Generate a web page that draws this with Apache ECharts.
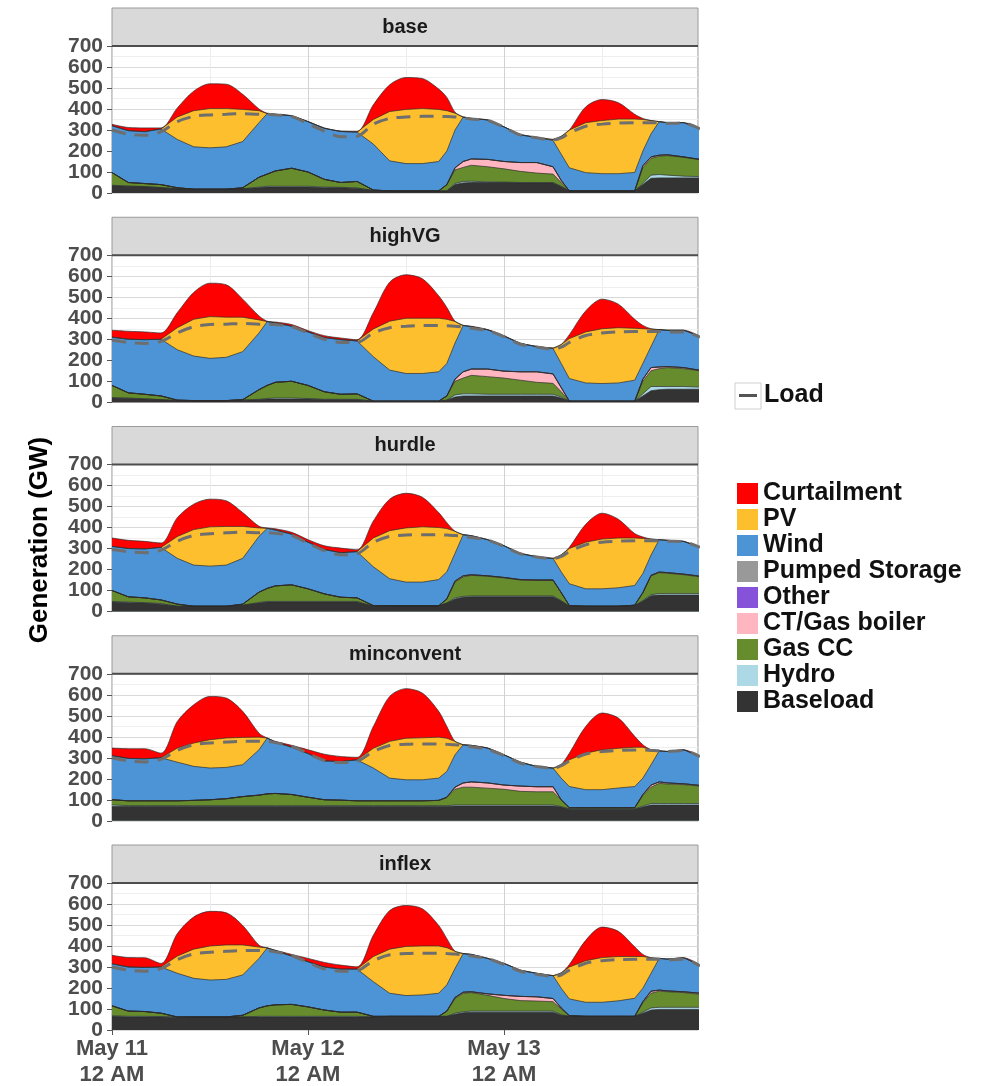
<!DOCTYPE html>
<html>
<head>
<meta charset="utf-8">
<script src="https://cdn.jsdelivr.net/npm/echarts@6.0.0/dist/echarts.min.js"></script>
<style>
html,body{margin:0;padding:0;background:#ffffff;}
#chart{width:991px;height:1086px;}
</style>
</head>
<body>
<div id="chart"></div>
<script>
// ---------- DATA ----------
const hours = [0,2,4,6,8,10,12,14,16,18,19,20,22,24,26,28,30,32,34,36,38,40,41,42,43,44,46,48,50,52,54,55,56,58,60,62,64,65,66,67,68,70,72];
const scenarios = ['base','highVG','hurdle','minconvent','inflex'];
const xTickValues = [0,24,48];
const xTickLabels = ['May 11\n12 AM','May 12\n12 AM','May 13\n12 AM'];
const yTickValues = [0,100,200,300,400,500,600,700];

const other_gw  = [0,0,0,0,0,0,0,0,0,0,0,0,0,0,0,0,0,0,0,0,0,0,0,0,0,0,0,0,0,0,0,0,0,0,0,0,0,0,0,0,0,0,0];
const pumped_gw = [0,0,0,0,0,0,0,0,0,0,0,0,0,0,0,0,0,0,0,0,0,0,0,0,0,0,0,0,0,0,0,0,0,0,0,0,0,0,0,0,0,0,0];

// base
const base_baseload = [35,32,30,25,20,18,18,18,20,25,28,28,28,28,25,25,22,12,10,10,10,10,10,40,48,50,50,50,48,48,48,30,10,10,10,10,10,40,70,72,72,72,72];
const base_hydro    = [2,1,1,1,0,0,0,0,0,3,4,4,4,4,3,2,2,0,0,0,0,0,0,5,7,6,3,2,2,2,2,2,0,0,0,0,0,5,15,16,13,8,6];
const base_gascc    = [60,17,14,14,5,0,0,0,5,47,58,73,86,68,37,23,31,2,0,0,0,0,30,65,67,76,72,63,53,45,40,18,0,0,0,0,0,75,80,87,93,90,80];
const base_ct       = [0,0,0,0,0,0,0,0,0,0,0,0,0,0,0,0,0,0,0,0,0,0,0,10,28,30,35,35,42,50,35,10,0,0,0,0,0,10,7,5,4,2,2];
const base_wind     = [223,247,247,265,230,202,197,202,220,260,288,270,250,240,243,243,235,219,143,130,130,140,160,180,212,193,188,165,133,120,125,125,110,87,82,82,88,70,110,160,153,163,148];
const base_pv       = [0,0,0,0,107,172,187,182,153,57,0,0,0,0,0,0,0,117,235,258,262,248,192,80,0,0,0,0,0,0,5,85,180,238,253,260,254,150,63,0,0,0,0];
const base_curt     = [7,15,18,5,43,93,118,116,72,8,2,0,0,0,2,2,3,70,127,152,143,97,63,5,0,0,0,0,0,0,0,0,0,75,100,78,23,5,0,0,0,0,0];
const base_load     = [300,280,275,292,340,365,372,375,378,375,375,372,365,330,295,268,270,328,355,362,365,365,364,362,358,352,346,313,276,263,253,262,285,318,328,333,335,335,335,335,332,333,305];

// highVG
const highVG_baseload = [20,18,15,12,8,8,8,8,10,12,15,15,15,15,12,12,12,5,5,5,5,5,10,25,30,30,30,30,30,30,30,20,5,5,5,5,5,30,55,60,62,62,62];
const highVG_hydro    = [2,2,2,0,0,0,0,0,0,2,3,5,5,3,2,2,2,0,0,0,0,0,0,10,10,10,8,8,8,8,8,5,0,0,0,0,0,10,20,15,13,13,10];
const highVG_gascc    = [58,25,21,18,2,0,0,0,2,46,62,75,80,62,36,24,26,0,0,0,0,0,20,65,75,88,84,77,67,57,52,25,0,0,0,0,0,60,75,85,90,85,78];
const highVG_ct       = [0,0,0,0,0,0,0,0,0,0,0,0,0,0,0,0,0,0,0,0,0,0,0,10,30,30,36,33,40,50,45,20,0,0,0,0,0,10,15,8,5,5,2];
const highVG_wind     = [230,255,260,270,240,212,201,206,229,270,304,283,262,255,258,260,252,212,148,132,132,140,155,172,221,202,187,167,135,120,121,115,108,87,84,87,100,75,101,178,173,178,162];
const highVG_pv       = [0,0,0,0,105,175,199,191,164,62,0,0,0,0,0,0,0,132,233,263,263,255,210,103,0,0,0,0,0,0,2,90,190,243,261,263,247,165,82,0,0,0,0];
const highVG_curt     = [33,38,37,30,72,128,159,154,86,19,2,4,8,6,9,8,6,78,186,207,188,107,56,1,0,2,1,2,2,1,0,0,19,100,141,112,43,16,2,0,0,0,0];
const highVG_load     = [295,285,280,290,330,360,370,372,375,372,372,370,360,330,300,285,285,330,355,362,365,365,364,362,358,352,342,312,276,263,253,262,285,318,330,335,337,337,337,337,335,335,310];

// hurdle
const hurdle_baseload = [45,42,40,35,25,25,25,25,30,40,45,45,45,45,45,45,45,25,27,27,27,27,40,60,68,70,70,70,70,70,70,50,25,25,25,25,28,50,75,78,78,78,78];
const hurdle_hydro    = [3,3,2,3,0,0,0,0,0,3,3,3,3,3,3,3,3,0,0,0,0,0,0,5,4,4,4,4,4,4,4,2,0,0,0,0,0,3,5,7,7,7,7];
const hurdle_gascc    = [52,25,23,17,10,0,0,0,5,49,62,74,79,60,36,20,17,3,0,0,0,0,20,75,93,98,94,86,76,74,74,38,3,0,0,0,2,37,90,100,97,90,80];
const hurdle_ct       = [0,0,0,0,0,0,0,0,0,0,0,0,0,0,0,0,0,0,0,0,0,0,0,5,5,3,2,2,2,2,2,0,0,0,0,0,0,0,2,3,3,3,3];
const hurdle_wind     = [210,230,233,250,218,196,191,196,218,266,286,266,241,222,211,212,220,185,129,113,113,125,129,132,196,186,172,151,125,111,103,99,104,83,83,88,94,91,97,154,154,156,138];
const hurdle_pv       = [0,0,0,0,104,169,187,184,152,40,0,0,0,0,0,0,0,137,229,258,263,248,206,105,0,0,0,0,0,0,0,81,168,222,237,237,226,167,76,0,0,0,0];
const hurdle_curt     = [40,39,36,21,90,121,132,122,66,8,2,6,9,12,18,22,9,81,150,165,141,71,28,0,0,0,0,0,0,0,0,0,6,85,123,89,21,7,0,0,0,0,0];
const hurdle_load     = [295,285,280,292,335,362,370,375,378,375,375,372,362,325,290,270,275,330,358,364,366,366,364,362,358,352,340,310,275,260,252,262,285,318,330,335,337,337,337,337,335,332,305];

// minconvent
const minconvent_baseload = [68,68,68,68,68,68,68,68,68,68,68,68,68,68,68,68,68,68,68,68,68,68,68,70,70,70,70,70,70,70,70,65,55,55,55,55,55,65,75,75,75,75,75];
const minconvent_hydro    = [7,4,4,4,4,4,4,4,4,4,4,4,4,4,4,4,4,4,4,4,4,4,4,5,5,5,5,5,5,5,5,3,2,2,2,2,2,4,7,7,7,7,7];
const minconvent_gascc    = [25,23,23,23,23,25,28,33,43,50,56,58,53,40,28,26,23,23,23,23,23,25,38,75,85,85,80,75,65,63,63,32,5,5,5,5,5,51,78,96,93,90,83];
const minconvent_ct       = [0,0,0,0,0,0,0,0,0,0,0,0,0,0,0,0,0,0,0,0,0,0,2,10,20,25,25,20,25,24,24,0,0,0,0,0,0,5,10,7,5,4,3];
const minconvent_wind     = [210,202,200,205,184,162,151,149,152,216,266,245,225,208,185,184,195,156,108,100,100,106,123,154,182,174,166,144,114,97,89,103,101,86,86,94,101,78,97,148,150,162,138];
const minconvent_pv       = [0,0,0,0,67,111,135,140,130,60,0,0,0,0,0,0,0,94,175,198,200,195,158,64,0,0,0,0,0,0,0,65,127,174,190,189,187,147,71,0,0,0,0];
const minconvent_curt     = [36,46,48,22,127,182,206,190,124,19,0,3,9,18,32,24,12,104,214,236,213,123,56,0,0,0,0,0,0,0,0,0,32,127,175,144,52,12,0,0,0,0,0];
const minconvent_load     = [300,285,280,292,335,362,370,375,378,378,378,372,355,320,287,277,283,330,358,364,366,366,364,362,358,352,340,310,275,258,250,262,285,318,330,335,337,337,335,333,330,335,305];

// inflex
const inflex_baseload = [65,62,62,62,60,62,62,62,62,62,62,62,62,62,62,62,62,62,65,65,65,65,65,75,82,85,85,85,85,85,85,70,65,65,65,65,65,80,95,98,98,98,98];
const inflex_hydro    = [3,3,3,2,2,0,0,0,0,3,3,3,3,3,3,3,3,0,0,0,0,0,0,5,5,5,5,5,5,5,5,3,0,0,0,0,0,5,10,10,10,10,10];
const inflex_gascc    = [47,25,23,16,0,0,0,0,8,40,50,55,57,45,30,20,20,3,0,0,0,0,25,70,88,88,75,60,50,48,45,27,3,0,0,0,0,45,70,77,74,70,62];
const inflex_ct       = [0,0,0,0,0,0,0,0,0,0,0,0,0,0,0,0,0,0,0,0,0,0,0,5,5,4,7,15,20,20,15,5,0,0,0,0,0,5,10,5,4,4,5];
const inflex_wind     = [200,210,210,220,208,184,176,179,192,236,276,258,230,215,205,205,205,165,110,99,102,110,125,138,184,178,169,152,125,112,109,94,80,67,67,74,86,64,85,151,152,162,134];
const inflex_pv       = [0,0,0,0,82,139,162,164,143,54,0,0,0,0,0,0,0,120,210,234,233,225,177,82,0,0,0,0,0,0,0,73,152,198,213,211,199,151,74,0,0,0,0];
const inflex_curt     = [41,45,46,17,107,153,165,153,93,9,0,2,8,16,22,19,11,101,184,195,177,98,43,0,0,0,0,0,0,0,0,0,12,97,145,120,46,10,0,0,0,0,0];
const inflex_load     = [300,285,280,292,335,362,370,375,378,378,378,372,355,322,290,280,283,330,358,364,366,366,364,362,358,352,340,312,280,265,255,262,285,318,330,335,337,337,337,337,335,337,305];

// ---------- BUILD ----------
const panelData = {
  base:       [base_baseload, base_hydro, base_gascc, base_ct, other_gw, pumped_gw, base_wind, base_pv, base_curt, base_load],
  highVG:     [highVG_baseload, highVG_hydro, highVG_gascc, highVG_ct, other_gw, pumped_gw, highVG_wind, highVG_pv, highVG_curt, highVG_load],
  hurdle:     [hurdle_baseload, hurdle_hydro, hurdle_gascc, hurdle_ct, other_gw, pumped_gw, hurdle_wind, hurdle_pv, hurdle_curt, hurdle_load],
  minconvent: [minconvent_baseload, minconvent_hydro, minconvent_gascc, minconvent_ct, other_gw, pumped_gw, minconvent_wind, minconvent_pv, minconvent_curt, minconvent_load],
  inflex:     [inflex_baseload, inflex_hydro, inflex_gascc, inflex_ct, other_gw, pumped_gw, inflex_wind, inflex_pv, inflex_curt, inflex_load]
};
// stacking order, bottom to top
const stackNames = ['Baseload','Hydro','Gas CC','CT/Gas boiler','Other','Pumped Storage','Wind','PV','Curtailment'];
const fillColors = {
  'Baseload':'#333333','Hydro':'#add8e6','Gas CC':'#668c2e','CT/Gas boiler':'#ffb6c1',
  'Other':'#8552d9','Pumped Storage':'#999999','Wind':'#4d94d6','PV':'#fdbf2d','Curtailment':'#ff0000'
};

const FONT = 'Liberation Sans, Arial, Helvetica, sans-serif';
const plotLeft = 112, plotWidth = 586, plotHeight = 147, firstTop = 46, step = 209.25, stripH = 38;

const grids = [], xAxes = [], yAxes = [], series = [], graphics = [];
scenarios.forEach((sc, i) => {
  const top = firstTop + step * i;
  const isLast = i === scenarios.length - 1;
  grids.push({left: plotLeft, top: top, width: plotWidth, height: plotHeight, show: true,
    borderColor: '#8f8f8f', borderWidth: 1, backgroundColor: '#ffffff', containLabel: false, outerBoundsMode: 'none'});
  xAxes.push({
    type: 'value', gridIndex: i, min: 0, max: 71.75, interval: 24,
    axisLine: {show: false},
    axisTick: {show: isLast, length: 5, lineStyle: {color: '#555555', width: 1}},
    axisLabel: {show: isLast, margin: 6, color: '#4d4d4d', fontWeight: 'bold', fontSize: 22, lineHeight: 26, fontFamily: FONT,
      showMaxLabel: false,
      formatter: v => { const k = xTickValues.indexOf(v); return k >= 0 ? xTickLabels[k] : ''; }},
    splitLine: {show: true, lineStyle: {color: '#d2d2d2', width: 1}},
    minorTick: {show: false, splitNumber: 2},
    minorSplitLine: {show: true, lineStyle: {color: '#ededed', width: 1}}
  });
  yAxes.push({
    type: 'value', gridIndex: i, min: 0, max: 700, interval: 100,
    axisLine: {show: false},
    axisTick: {show: true, length: 5, lineStyle: {color: '#555555', width: 1}},
    axisLabel: {show: true, margin: 9, color: '#4d4d4d', fontWeight: 'bold', fontSize: 21, fontFamily: FONT,
      formatter: v => (yTickValues.indexOf(v) >= 0 ? String(v) : '')},
    splitLine: {show: true, lineStyle: {color: '#d9d9d9', width: 1}},
    minorTick: {show: false, splitNumber: 2},
    minorSplitLine: {show: true, lineStyle: {color: '#efefef', width: 1}}
  });
  const arrs = panelData[sc];
  // cumulative tops of each layer (stacking), painted from the top layer down
  const tops = [];
  stackNames.forEach((nm, k) => {
    tops.push(hours.map((h, j) => (k > 0 ? tops[k - 1][j] : 0) + arrs[k][j]));
  });
  for (let k = stackNames.length - 1; k >= 0; k--) {
    const nm = stackNames[k];
    const cum = tops[k];
    series.push({
      type: 'line', name: nm, xAxisIndex: i, yAxisIndex: i,
      symbol: 'none', silent: true, z: 2,
      smooth: nm === 'Curtailment' ? 0.3 : false,
      lineStyle: {width: 0.8, color: '#2b2b2b', opacity: 0.85},
      itemStyle: {color: fillColors[nm]},
      areaStyle: {color: fillColors[nm], opacity: 1, origin: 'start'},
      data: hours.map((h, j) => [h, cum[j]])
    });
  }
  const loadVals = arrs[9];
  series.push({
    type: 'line', name: 'Load', xAxisIndex: i, yAxisIndex: i, symbol: 'none', silent: true, z: 5,
    smooth: 0.3,
    lineStyle: {width: 3, color: '#6e6e6e', type: [14, 9]},
    itemStyle: {color: '#5a5a5a'},
    data: hours.map((h, j) => [h, loadVals[j]])
  });
  // facet strip
  graphics.push({type: 'rect', z: 10, shape: {x: plotLeft, y: top - stripH, width: plotWidth, height: stripH},
    style: {fill: '#d9d9d9', stroke: '#9a9a9a', lineWidth: 1}});
  graphics.push({type: 'line', z: 11, shape: {x1: plotLeft, y1: top, x2: plotLeft + plotWidth, y2: top},
    style: {stroke: '#4d4d4d', lineWidth: 2}});
  graphics.push({type: 'text', z: 12, x: plotLeft + plotWidth / 2, y: top - stripH / 2,
    style: {text: sc, font: 'bold 20px ' + FONT, fill: '#1a1a1a', textAlign: 'center', textVerticalAlign: 'middle', align: 'center', verticalAlign: 'middle'}});
});

graphics.push({type: 'text', z: 12, x: 40, y: 540, rotation: Math.PI / 2,
  style: {text: 'Generation (GW)', font: 'bold 26px ' + FONT, fill: '#000000', textAlign: 'center', textVerticalAlign: 'middle', align: 'center', verticalAlign: 'middle'}});
// legend key box for Load
graphics.push({type: 'rect', z: 0, shape: {x: 735, y: 383, width: 26, height: 26},
  style: {fill: '#ffffff', stroke: '#cfcfcf', lineWidth: 1}});

const option = {
  animation: false,
  backgroundColor: '#ffffff',
  grid: grids, xAxis: xAxes, yAxis: yAxes, series: series,
  graphic: {elements: graphics},
  legend: [
    {data: ['Load'], orient: 'vertical', left: 739, top: 383, padding: 0,
     icon: 'rect', itemWidth: 18, itemHeight: 3, itemGap: 0,
     itemStyle: {color: '#555555', borderWidth: 0},
     textStyle: {fontSize: 25, fontWeight: 'bold', color: '#111111', fontFamily: FONT, padding: [0,0,0,2]},
     selectedMode: false},
    {data: stackNames.slice().reverse(), orient: 'vertical', left: 737, top: 481, padding: 0,
     icon: 'rect', itemWidth: 21, itemHeight: 21, itemGap: 1,
     itemStyle: {borderWidth: 0},
     textStyle: {fontSize: 25, fontWeight: 'bold', color: '#111111', fontFamily: FONT},
     selectedMode: false}
  ]
};

const chart = echarts.init(document.getElementById('chart'), null, {renderer: 'canvas'});
chart.setOption(option);
</script>
</body>
</html>
